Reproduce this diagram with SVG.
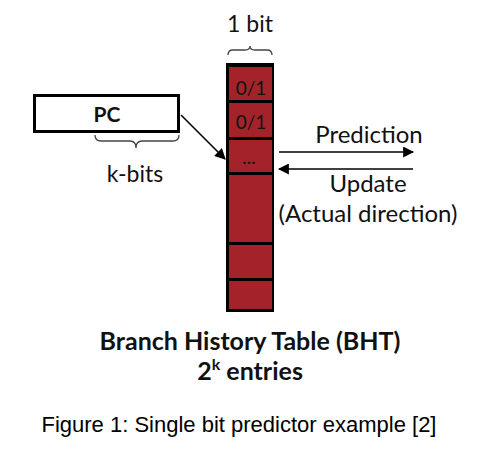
<svg xmlns="http://www.w3.org/2000/svg" width="478" height="452" viewBox="0 0 478 452">
<defs>
<style>
.t{font-family:Lato,"Open Sans",sans-serif;fill:#111;}
.b{font-weight:bold;}
.cell{fill:#A4232A;}
.ln{stroke:#000;stroke-width:1.6;fill:none;}
.br{stroke:#444;stroke-width:1.3;fill:none;}
</style>
<marker id="ah" viewBox="0 0 10 10" refX="9" refY="5" markerWidth="11" markerHeight="11" markerUnits="userSpaceOnUse" orient="auto">
<path d="M0,0 L10,5 L0,10 z" fill="#000"/>
</marker>
</defs>
<rect width="478" height="452" fill="#fff"/>
<g id="bht">
<rect x="226" y="63" width="48" height="249" fill="#000"/>
<rect class="cell" x="229" y="67" width="43" height="33"/>
<rect class="cell" x="229" y="103" width="43" height="34"/>
<rect class="cell" x="229" y="140" width="43" height="32"/>
<rect class="cell" x="229" y="175" width="43" height="67"/>
<rect class="cell" x="229" y="245" width="43" height="33"/>
<rect class="cell" x="229" y="281" width="43" height="28"/>
<text class="t" x="251" y="95" font-size="19" text-anchor="middle">0/1</text>
<text class="t" x="251" y="129" font-size="19" text-anchor="middle">0/1</text>
<text class="t" x="249" y="164" font-size="19" text-anchor="middle">...</text>
</g>
<g id="bit-label">
<text class="t" x="250" y="32" font-size="23" text-anchor="middle">1 bit</text>
<path class="br" d="M228,55 Q228,50 233,50 L245,50 Q250,50 250,46 Q250,50 255,50 L267,50 Q272,50 272,55"/>
</g>
<g id="pc">
<rect x="34.5" y="95.5" width="144" height="36" fill="#fff" stroke="#000" stroke-width="3"/>
<text class="t b" x="107" y="122" font-size="21" text-anchor="middle">PC</text>
<path class="br" d="M95,135 Q95,141 101,141 L130,141 Q136,141 136,148 Q136,141 142,141 L173,141 Q179,141 179,135"/>
<text class="t" x="135" y="182" font-size="23" text-anchor="middle">k-bits</text>
</g>
<g id="connectors">
<line class="ln" x1="181" y1="115" x2="225" y2="159" marker-end="url(#ah)"/>
<line class="ln" x1="279" y1="152" x2="413" y2="152" marker-end="url(#ah)"/>
<line class="ln" x1="413" y1="169" x2="279" y2="169" marker-end="url(#ah)"/>
</g>
<g id="labels">
<text class="t" x="369" y="143" font-size="24" text-anchor="middle">Prediction</text>
<text class="t" x="368" y="192" font-size="24" text-anchor="middle">Update</text>
<text class="t" x="368" y="222" font-size="24" text-anchor="middle">(Actual direction)</text>
<text class="t b" x="250" y="350" font-size="25" text-anchor="middle">Branch History Table (BHT)</text>
<text class="t b" x="250" y="380" font-size="25" text-anchor="middle">2<tspan font-size="16" dy="-10">k</tspan><tspan dy="10"> entries</tspan></text>
<text x="239" y="432" font-family="'Liberation Sans',Arial,sans-serif" font-size="22" fill="#000" text-anchor="middle">Figure 1: Single bit predictor example [2]</text>
</g>
</svg>
